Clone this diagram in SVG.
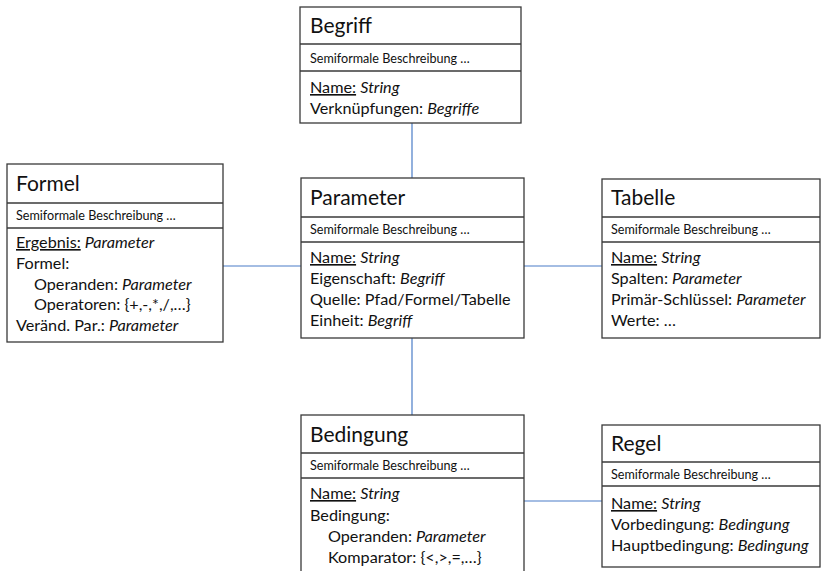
<svg xmlns="http://www.w3.org/2000/svg" width="822" height="571" viewBox="0 0 822 571">
<style>
.box{fill:#fff;stroke:#3a3a3a;stroke-width:1.3}
.div{stroke:#3a3a3a;stroke-width:1.3}
.conn{stroke:#4a7cc7;stroke-width:1.2;fill:none}
text{font-family:Lato,"Open Sans","Liberation Sans",sans-serif;fill:#111}
.t{font-size:21px}
.s{font-size:12.6px}
.b{font-size:16.2px}
.i{font-style:italic}
.u{text-decoration:underline}
</style>
<g id="connectors">
<line class="conn" x1="412" y1="123" x2="412" y2="178"/>
<line class="conn" x1="223" y1="266" x2="301" y2="266"/>
<line class="conn" x1="524" y1="266" x2="602" y2="266"/>
<line class="conn" x1="412" y1="338" x2="412" y2="415"/>
<line class="conn" x1="524" y1="501" x2="602" y2="501"/>
</g>
<g id="begriff">
<rect class="box" x="300" y="7" width="221" height="116"/>
<line class="div" x1="300" y1="44" x2="521" y2="44"/>
<line class="div" x1="300" y1="71" x2="521" y2="71"/>
<text class="t" x="310" y="33">Begriff</text>
<text class="s" x="310" y="63">Semiformale Beschreibung …</text>
<text class="b" x="310" y="93"><tspan class="u">Name:</tspan> <tspan class="i">String</tspan></text>
<text class="b" x="310" y="114">Verknüpfungen: <tspan class="i">Begriffe</tspan></text>
</g>
<g id="formel">
<rect class="box" x="7" y="164" width="216" height="178"/>
<line class="div" x1="7" y1="203" x2="223" y2="203"/>
<line class="div" x1="7" y1="228" x2="223" y2="228"/>
<text class="t" x="16" y="191">Formel</text>
<text class="s" x="16" y="220">Semiformale Beschreibung …</text>
<text class="b" x="16" y="248"><tspan class="u">Ergebnis:</tspan> <tspan class="i">Parameter</tspan></text>
<text class="b" x="16" y="269">Formel:</text>
<text class="b" x="34" y="290">Operanden: <tspan class="i">Parameter</tspan></text>
<text class="b" x="34" y="310">Operatoren: {+,-,*,/,…}</text>
<text class="b" x="16" y="331">Veränd. Par.: <tspan class="i">Parameter</tspan></text>
</g>
<g id="parameter">
<rect class="box" x="301" y="178" width="223" height="160"/>
<line class="div" x1="301" y1="217" x2="524" y2="217"/>
<line class="div" x1="301" y1="242" x2="524" y2="242"/>
<text class="t" x="310" y="205">Parameter</text>
<text class="s" x="310" y="234">Semiformale Beschreibung …</text>
<text class="b" x="310" y="263"><tspan class="u">Name:</tspan> <tspan class="i">String</tspan></text>
<text class="b" x="310" y="284">Eigenschaft: <tspan class="i">Begriff</tspan></text>
<text class="b" x="310" y="305">Quelle: Pfad/Formel/Tabelle</text>
<text class="b" x="310" y="326">Einheit: <tspan class="i">Begriff</tspan></text>
</g>
<g id="tabelle">
<rect class="box" x="602" y="179" width="218" height="159"/>
<line class="div" x1="602" y1="217" x2="820" y2="217"/>
<line class="div" x1="602" y1="242" x2="820" y2="242"/>
<text class="t" x="611" y="205">Tabelle</text>
<text class="s" x="611" y="234">Semiformale Beschreibung …</text>
<text class="b" x="611" y="263"><tspan class="u">Name:</tspan> <tspan class="i">String</tspan></text>
<text class="b" x="611" y="284">Spalten: <tspan class="i">Parameter</tspan></text>
<text class="b" x="611" y="305">Primär-Schlüssel: <tspan class="i">Parameter</tspan></text>
<text class="b" x="611" y="326">Werte: …</text>
</g>
<g id="bedingung">
<rect class="box" x="301" y="415" width="223" height="170"/>
<line class="div" x1="301" y1="453" x2="524" y2="453"/>
<line class="div" x1="301" y1="478" x2="524" y2="478"/>
<text class="t" x="310" y="442">Bedingung</text>
<text class="s" x="310" y="470">Semiformale Beschreibung …</text>
<text class="b" x="310" y="499"><tspan class="u">Name:</tspan> <tspan class="i">String</tspan></text>
<text class="b" x="310" y="521">Bedingung:</text>
<text class="b" x="328" y="542">Operanden: <tspan class="i">Parameter</tspan></text>
<text class="b" x="328" y="563">Komparator: {&lt;,&gt;,=,…}</text>
</g>
<g id="regel">
<rect class="box" x="602" y="425" width="218" height="142"/>
<line class="div" x1="602" y1="462" x2="820" y2="462"/>
<line class="div" x1="602" y1="486" x2="820" y2="486"/>
<text class="t" x="611" y="451">Regel</text>
<text class="s" x="611" y="479">Semiformale Beschreibung …</text>
<text class="b" x="611" y="509"><tspan class="u">Name:</tspan> <tspan class="i">String</tspan></text>
<text class="b" x="611" y="530">Vorbedingung: <tspan class="i">Bedingung</tspan></text>
<text class="b" x="611" y="551">Hauptbedingung: <tspan class="i">Bedingung</tspan></text>
</g>
</svg>
